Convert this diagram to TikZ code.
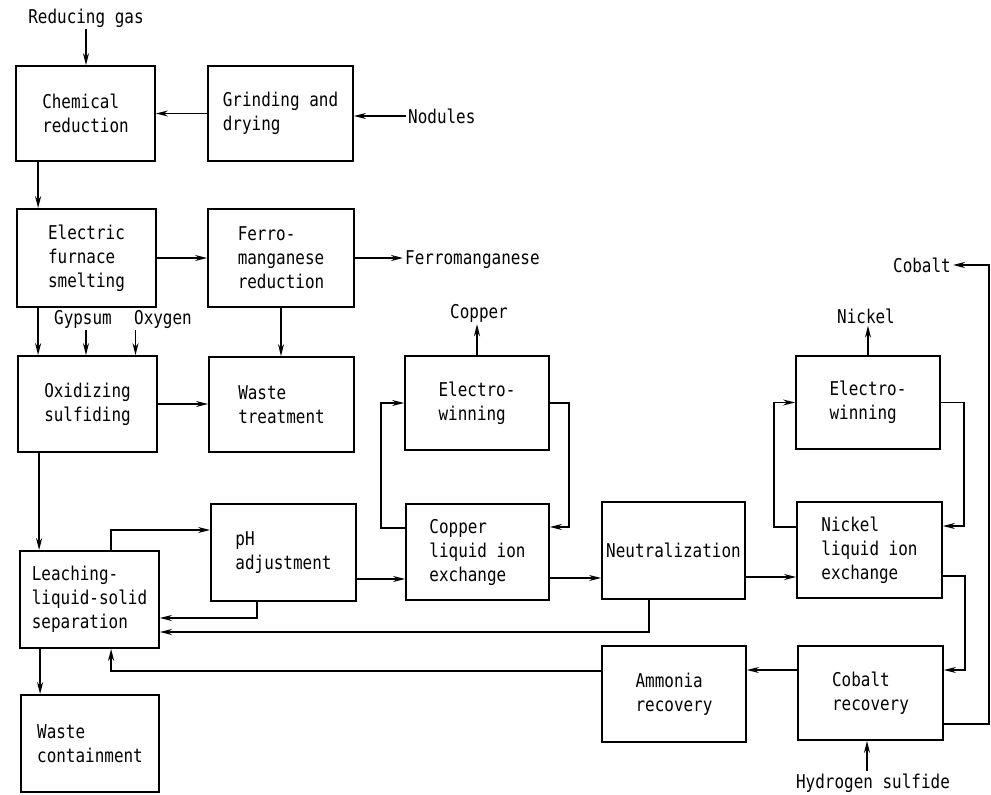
\documentclass[tikz,border=0pt]{standalone}
\usepackage{fontspec}
\setmainfont{DejaVu Sans Mono}[FakeStretch=0.84]
\usetikzlibrary{arrows.meta}
\begin{document}
\begin{tikzpicture}[x=1pt,y=-1pt,
  font=\fontsize{19}{24}\selectfont,
  box/.style={draw, line width=1.8pt, inner sep=0pt, align=left},
  lbl/.style={inner sep=2pt},
  arr/.style={line width=1.7pt, -{Stealth[length=12pt,width=6pt]}}]
\useasboundingbox (0,0) rectangle (991,795);

% boxes
\node[box,minimum width=139,minimum height=95] (chem) at (85.5,113.5) {Chemical\\reduction};
\node[box,minimum width=145,minimum height=95] (grind) at (280.5,113.5) {Grinding and\\drying};
\node[box,minimum width=139,minimum height=98] (elec) at (86.5,258) {Electric\\furnace\\smelting};
\node[box,minimum width=146,minimum height=98] (ferro) at (281,258) {Ferro-\\manganese\\reduction};
\node[box,minimum width=139,minimum height=96] (oxid) at (87.5,404) {Oxidizing\\sulfiding};
\node[box,minimum width=145,minimum height=95] (wastet) at (281.5,404.5) {Waste\\treatment};
\node[box,minimum width=139,minimum height=97] (leach) at (89.5,599.5) {Leaching-\\liquid-solid\\separation};
\node[box,minimum width=138,minimum height=97] (wastec) at (90,743.5) {Waste\\containment};
\node[box,minimum width=145,minimum height=97] (ph) at (283.5,552.5) {pH\\adjustment};
\node[box,minimum width=144,minimum height=94] (cuew) at (477,403) {Electro-\\winning};
\node[box,minimum width=143,minimum height=96] (culix) at (477.5,552) {Copper\\liquid ion\\exchange};
\node[box,minimum width=143,minimum height=97] (neut) at (673.5,550.5) {Neutralization};
\node[box,minimum width=144,minimum height=93] (niew) at (868,402.5) {Electro-\\winning};
\node[box,minimum width=145,minimum height=96] (nilix) at (869.5,550) {Nickel\\liquid ion\\exchange};
\node[box,minimum width=145,minimum height=94] (cobrec) at (870.5,693) {Cobalt\\recovery};
\node[box,minimum width=144,minimum height=96] (amm) at (674,694) {Ammonia\\recovery};

% labels
\node[lbl] (rg) at (86,18) {Reducing gas};
\node[lbl,anchor=west] (nod) at (406,116) {Nodules};
\node[lbl,anchor=west] (fm) at (403,260) {Ferromanganese};
\node[lbl] (gyp) at (83,319) {Gypsum};
\node[lbl] (oxy) at (163,319) {Oxygen};
\node[lbl] (cu) at (479,313) {Copper};
\node[lbl] (ni) at (866,316) {Nickel};
\node[lbl,anchor=east] (cob) at (953,265) {Cobalt};
\node[lbl] (hs) at (873,783) {Hydrogen sulfide};
\coordinate (cr) at (989,265);

% connectors
\draw[arr] (rg.south) -- (rg.south |- chem.north);
\draw[arr] (grind.west) -- (chem.east);
\draw[arr] (nod.west) -- (nod.west -| grind.east);
\draw[arr] ([xshift=23]chem.south west) -- ([xshift=22]elec.north west);
\draw[arr] (elec.east) -- (ferro.west);
\draw[arr] (ferro.east) -- (ferro.east -| fm.west);
\draw[arr] ([xshift=22]elec.south west) -- ([xshift=21]oxid.north west);
\draw[arr] ([xshift=3]gyp.south) -- ([xshift=3]gyp.south |- oxid.north);
\draw[arr] ([xshift=-27.5]oxy.south) -- ([xshift=-27.5]oxy.south |- oxid.north);
\draw[arr] (ferro.south) -- (ferro.south |- wastet.north);
\draw[arr] (oxid.east) -- (oxid.east -| wastet.west);
\draw[arr] ([xshift=22]oxid.south west) -- ([xshift=20]leach.north west);
\draw[arr] ([xshift=92]leach.north west) |- ([yshift=22.5]ph.west);
\draw[arr] ([xshift=-26.5]ph.south) |- ([yshift=-18.5]leach.east);
\draw[arr] ([xshift=-24.5]neut.south) |- ([yshift=-32.5]leach.east);
\draw[arr] ([yshift=23]amm.west) -| ([xshift=92]leach.south west);
\draw[arr] ([xshift=21]leach.south west) -- ([xshift=20]wastec.north west);
\draw[arr] ([yshift=-26.5]ph.east) -- ([yshift=-26.5]ph.east -| culix.west);
\draw[arr] ([yshift=-26]culix.east) -- ([yshift=-26]culix.east -| neut.west);
\draw[arr] ([yshift=-26.5]neut.east) -- ([yshift=-26.5]neut.east -| nilix.west);
% copper loop
\draw[arr] ([yshift=24]culix.west) -- ++(-24,0) |- (cuew.west);
\draw[arr] (cuew.east) -- ++(19,0) |- ([yshift=25]culix.east);
\draw[arr] (cuew.north) -- (cuew.north |- cu.south);
% nickel loop
\draw[arr] ([yshift=23]nilix.west) -- ++(-22,0) |- (niew.west);
\draw[arr] (niew.east) -- ++(23,0) |- ([yshift=24]nilix.east);
\draw[arr] (niew.north) -- (niew.north |- ni.south);
\draw[arr] ([yshift=-26]nilix.east) -- ++(22,0) |- ([yshift=23]cobrec.east);
\draw[arr] ([yshift=23]cobrec.west) -- ([yshift=23]cobrec.west -| amm.east);
\draw[arr] ([xshift=-6]hs.north) -- ([xshift=-6]hs.north |- cobrec.south);
\draw[arr] ([yshift=-31]cobrec.east) -| (cr) -- (cob.east);
\end{tikzpicture}
\end{document}
